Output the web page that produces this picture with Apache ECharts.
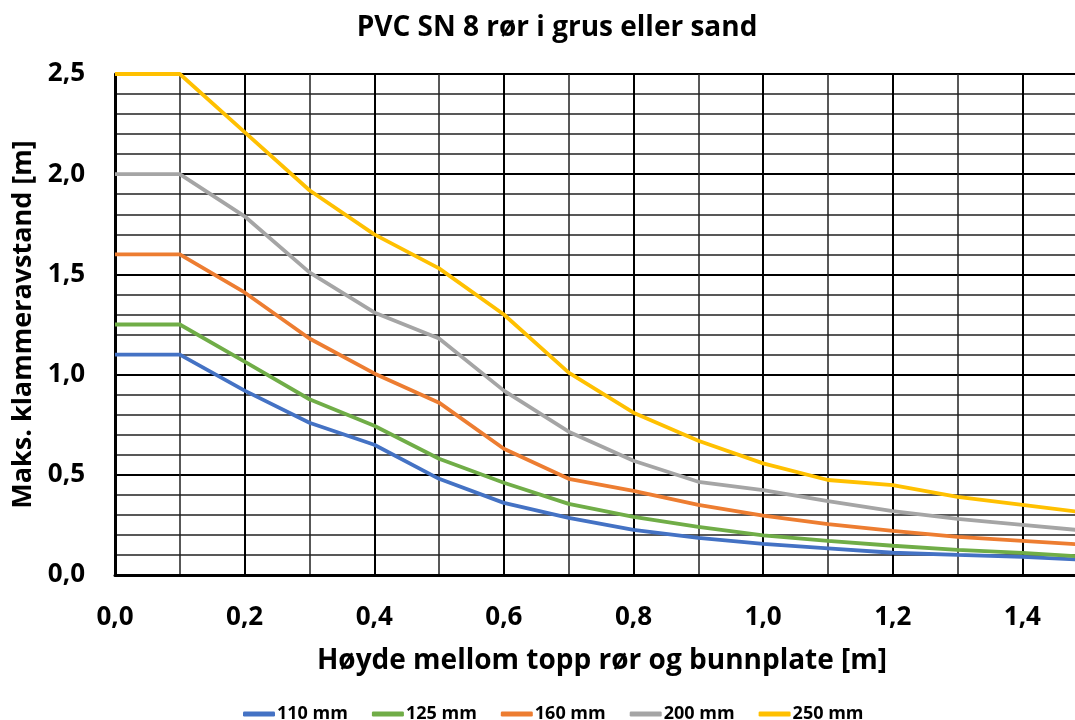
<!DOCTYPE html>
<html>
<head>
<meta charset="utf-8">
<script src="https://cdn.jsdelivr.net/npm/echarts@6/dist/echarts.min.js"></script>
<style>html,body{margin:0;padding:0;background:#fff}#c{width:1075px;height:720px}</style>
</head>
<body>
<div id="c"></div>
<script>
const xValues = [0.0, 0.1, 0.2, 0.3, 0.4, 0.5, 0.6, 0.7, 0.8, 0.9, 1.0, 1.1, 1.2, 1.3, 1.4, 1.5];
const seriesNames = ['110 mm', '125 mm', '160 mm', '200 mm', '250 mm'];
const s110 = [1.10, 1.10, 0.92, 0.76, 0.65, 0.48, 0.36, 0.285, 0.225, 0.185, 0.155, 0.133, 0.111, 0.10, 0.09, 0.075];
const s125 = [1.25, 1.25, 1.065, 0.877, 0.745, 0.58, 0.46, 0.355, 0.29, 0.24, 0.198, 0.17, 0.146, 0.125, 0.11, 0.09];
const s160 = [1.60, 1.60, 1.41, 1.18, 1.006, 0.86, 0.63, 0.48, 0.42, 0.35, 0.296, 0.254, 0.22, 0.19, 0.17, 0.15];
const s200 = [2.00, 2.00, 1.79, 1.51, 1.31, 1.18, 0.92, 0.715, 0.57, 0.465, 0.424, 0.369, 0.319, 0.28, 0.25, 0.22];
const s250 = [2.50, 2.50, 2.21, 1.92, 1.70, 1.53, 1.30, 1.01, 0.81, 0.67, 0.557, 0.474, 0.449, 0.39, 0.35, 0.31];
const colors = ['#4472C4', '#70AD47', '#ED7D31', '#A5A5A5', '#FFC000'];
const title = 'PVC SN 8 rør i grus eller sand';
const xName = 'Høyde mellom topp rør og bunnplate [m]';
const yName = 'Maks. klammeravstand [m]';

const allData = [s110, s125, s160, s200, s250];
const fmt = v => v.toFixed(1).replace('.', ',');
const font = '"Open Sans", "Noto Sans", sans-serif';

const chart = echarts.init(document.getElementById('c'), null, {renderer: 'canvas'});
chart.setOption({
  animation: false,
  backgroundColor: '#fff',
  color: colors,
  title: [
    {text: title, left: 552, textAlign: 'center', top: 9,
     textStyle: {fontFamily: font, fontSize: 28, fontWeight: 'bold', color: '#000'}},
    {text: xName, left: 597, textAlign: 'center', top: 642,
     textStyle: {fontFamily: font, fontSize: 28, fontWeight: 'bold', color: '#000'}}
  ],
  grid: {left: 115, top: 74, right: -77, bottom: 145, containLabel: false, outerBoundsMode: 'none'},
  legend: {
    data: seriesNames, top: 700, left: 238, itemGap: 24,
    icon: 'roundRect', itemWidth: 32, itemHeight: 5,
    textStyle: {fontFamily: font, fontSize: 18, fontWeight: 'bold', color: '#000', padding: [0, 0, 0, -3]}
  },
  xAxis: {
    type: 'value', min: 0, max: 1.6, interval: 0.2,
    axisLine: {show: true, onZero: false, lineStyle: {color: '#000', width: 3}},
    axisTick: {show: false},
    minorTick: {show: false, splitNumber: 2},
    axisLabel: {formatter: fmt, margin: 30, fontFamily: font, fontSize: 26, fontWeight: 'bold', color: '#000'},
    splitLine: {show: true, lineStyle: {color: '#000', width: 2}},
    minorSplitLine: {show: true, lineStyle: {color: '#222', width: 1.5}}
  },
  yAxis: {
    type: 'value', min: 0, max: 2.5, interval: 0.5,
    name: yName, nameLocation: 'middle', nameGap: 70, nameRotate: 90,
    nameTextStyle: {fontFamily: font, fontSize: 27, fontWeight: 'bold', color: '#000'},
    axisLine: {show: true, lineStyle: {color: '#000', width: 3}},
    axisTick: {show: false},
    minorTick: {show: false, splitNumber: 5},
    axisLabel: {formatter: fmt, margin: 30, fontFamily: font, fontSize: 26, fontWeight: 'bold', color: '#000'},
    splitLine: {show: true, lineStyle: {color: '#000', width: 2}},
    minorSplitLine: {show: true, lineStyle: {color: '#222', width: 1.5}}
  },
  series: seriesNames.map((n, i) => ({
    name: n, type: 'line', showSymbol: false, symbol: 'none',
    lineStyle: {width: 3.8, color: colors[i]},
    itemStyle: {color: colors[i]},
    data: xValues.map((x, j) => [x, allData[i][j]]),
    z: 3
  }))
});
</script>
</body>
</html>
